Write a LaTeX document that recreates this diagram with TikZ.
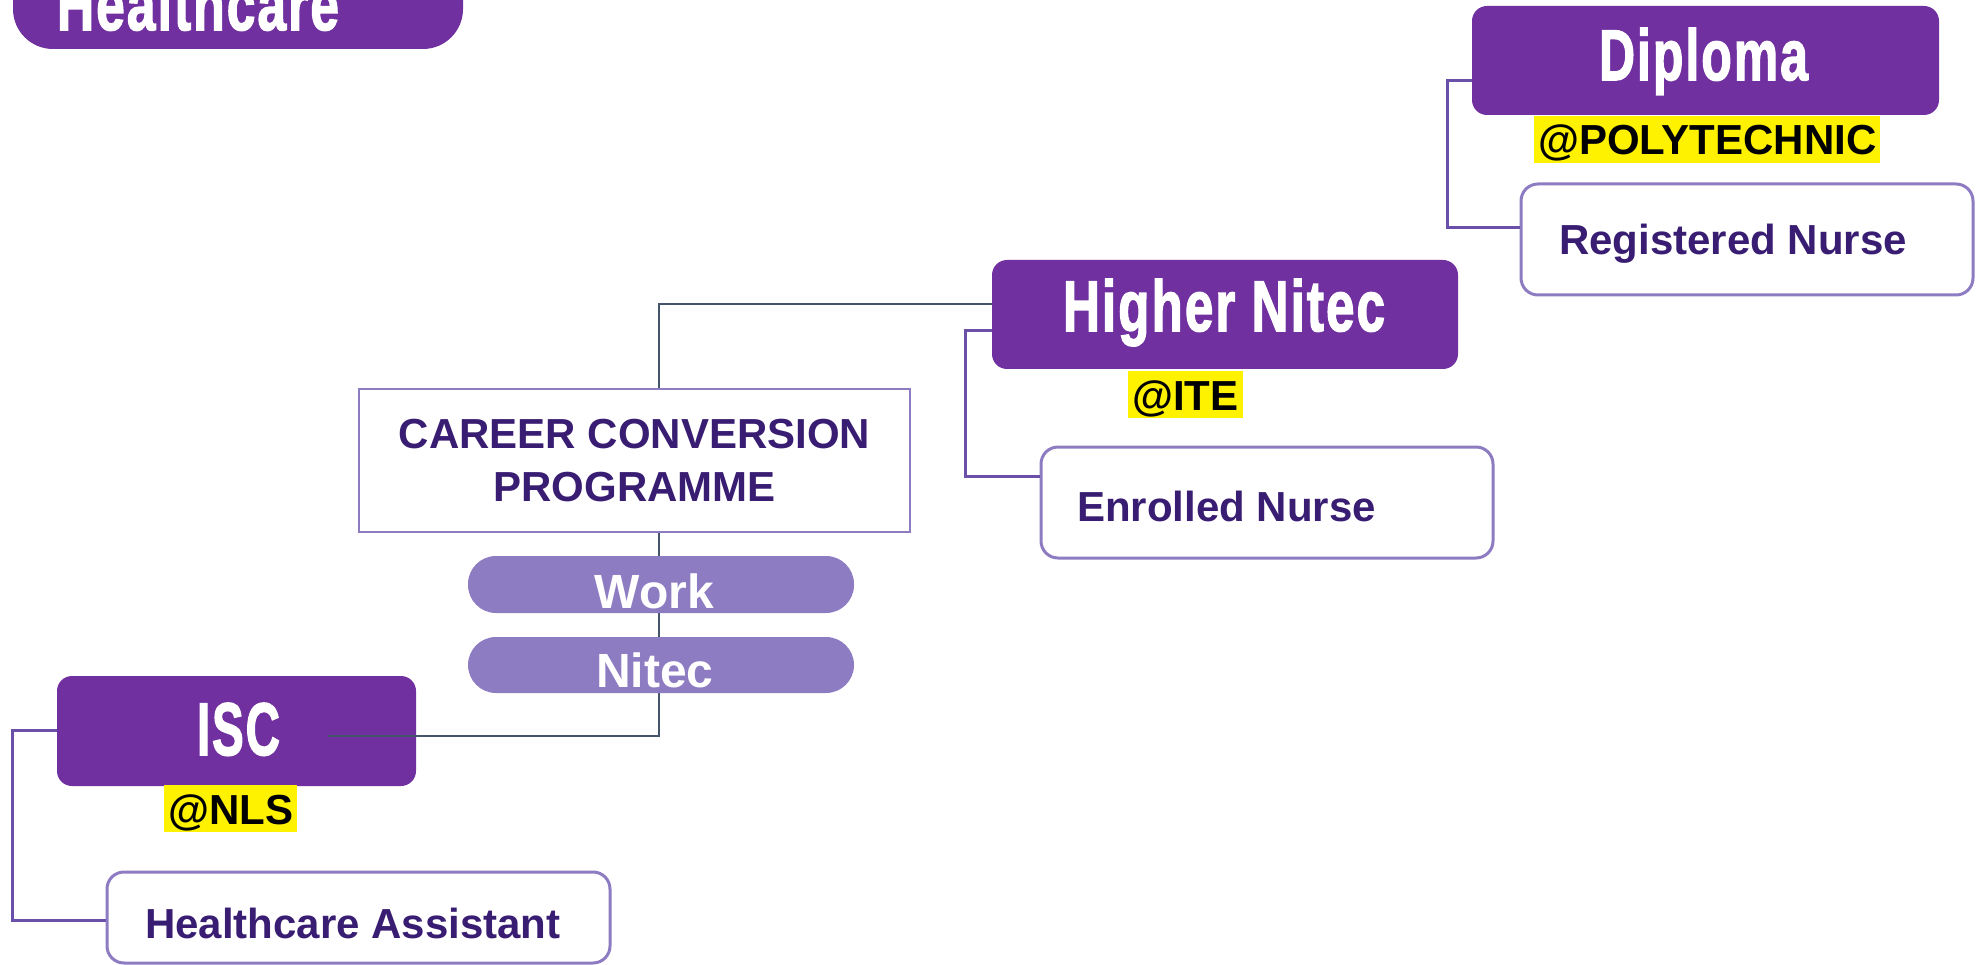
\documentclass[tikz,border=0pt]{standalone}
\usepackage{fontspec}
\setmainfont{Liberation Sans}
\newfontfamily\heavyfont{Liberation Sans}[BoldFeatures={FakeBold=2.2,LetterSpace=4}]
\usepackage{graphicx}
\definecolor{cPurple}{HTML}{7030A0}
\definecolor{cLav}{HTML}{8E7CC3}
\definecolor{cDark}{HTML}{381D72}
\definecolor{cBrk}{HTML}{6A50A8}
\definecolor{cSpine}{HTML}{44546A}
\newcommand\condtxt[2]{\resizebox{#1pt}{52pt}{\heavyfont\bfseries #2}}
\tikzset{
  pbox/.style={fill=cPurple, rounded corners=15pt, inner sep=0pt},
  ptitle/.style={anchor=base, text=white, inner sep=0pt},
  wbox/.style={draw=cLav, line width=3pt, fill=white, rounded corners=17pt, inner sep=0pt},
  ccpbox/.style={draw=cLav, line width=1.5pt, fill=white, inner sep=0pt, align=center,
    text=cDark, font=\bfseries\fontsize{42}{53}\selectfont},
  pill/.style={fill=cLav, rounded corners=28pt, inner sep=0pt},
  pilltxt/.style={anchor=base, text=white, inner sep=0pt, font=\bfseries\fontsize{48}{48}\selectfont},
  hl/.style={fill=yellow, text=black, font=\bfseries\fontsize{42}{42}\selectfont,
    inner xsep=4pt, inner ysep=0pt, text height=39pt, text depth=8pt, anchor=base west},
  lbl/.style={text=cDark, font=\bfseries\fontsize{42}{42}\selectfont, inner sep=0pt, anchor=base west},
  brk/.style={draw=cBrk, line width=3pt},
  spine/.style={draw=cSpine, line width=2pt}
}
\begin{document}
\begin{tikzpicture}[x=1pt,y=-1pt]
\clip (0,0) rectangle (1981,965);
\fill[white] (0,0) rectangle (1981,965);

% Title
\node[pbox, rounded corners=40pt, minimum width=450pt, minimum height=109pt] (hc) at (238,-5.5) {};
\node[ptitle] (hct) at (198,30) {\condtxt{282}{Healthcare}};

% Diploma
\node[pbox, minimum width=467pt, minimum height=109pt] (dip) at (1705.5,60.5) {};
\node[ptitle] (dipt) at (1703.5,80) {\condtxt{209}{Diploma}};
\node[hl] (poly) at (1534,155) {@POLYTECHNIC};
\node[wbox, minimum width=452pt, minimum height=111pt] (rn) at (1747,239.5) {};
\node[lbl] (rnt) at (1559,255) {Registered Nurse};
\draw[brk] ([yshift=-20.5pt]dip.west) -| (1447,228) -- ([yshift=11.5pt]rn.west);

% Higher Nitec
\node[pbox, minimum width=466pt, minimum height=109pt] (hn) at (1225,314.5) {};
\node[ptitle] (hnt) at (1224,331) {\condtxt{322}{Higher Nitec}};
\node[hl] (ite) at (1128,410) {@ITE};
\node[wbox, minimum width=452pt, minimum height=111pt] (en) at (1267,502.5) {};
\node[lbl] (ent) at (1077,521) {Enrolled Nurse};
\draw[brk] ([yshift=-16.5pt]hn.west) -| (965,476) -- ([yshift=26.5pt]en.west);

% ISC
\node[pbox, minimum width=359pt, minimum height=110pt] (isc) at (236.5,731) {};
\node[ptitle] (isct) at (238.5,755) {\condtxt{83}{ISC}};
\node[hl] (nls) at (164,824) {@NLS};
\node[wbox, minimum width=503pt, minimum height=91pt] (ha) at (358.5,917.5) {};
\node[lbl] (hat) at (145,938) {Healthcare Assistant};
\draw[brk] ([yshift=1pt]isc.west) -| (12,920) -- ([yshift=-2.5pt]ha.west);

% spine connector
\coordinate (iscend) at (328,736);
\draw[spine] ([yshift=10.5pt]hn.west) -| (658.5,736) -- (iscend);

% Career conversion programme
\node[ccpbox, minimum width=551pt, minimum height=143pt] (ccp) at (634.5,460.5) {CAREER CONVERSION\\PROGRAMME};
\node[pill, minimum width=386pt, minimum height=57pt] (work) at (661,584.5) {};
\node[pilltxt] (workt) at (654.5,608) {Work};
\node[pill, minimum width=386pt, minimum height=56pt] (nit) at (661,665) {};
\node[pilltxt] (nitt) at (655,687) {Nitec};
\end{tikzpicture}
\end{document}
